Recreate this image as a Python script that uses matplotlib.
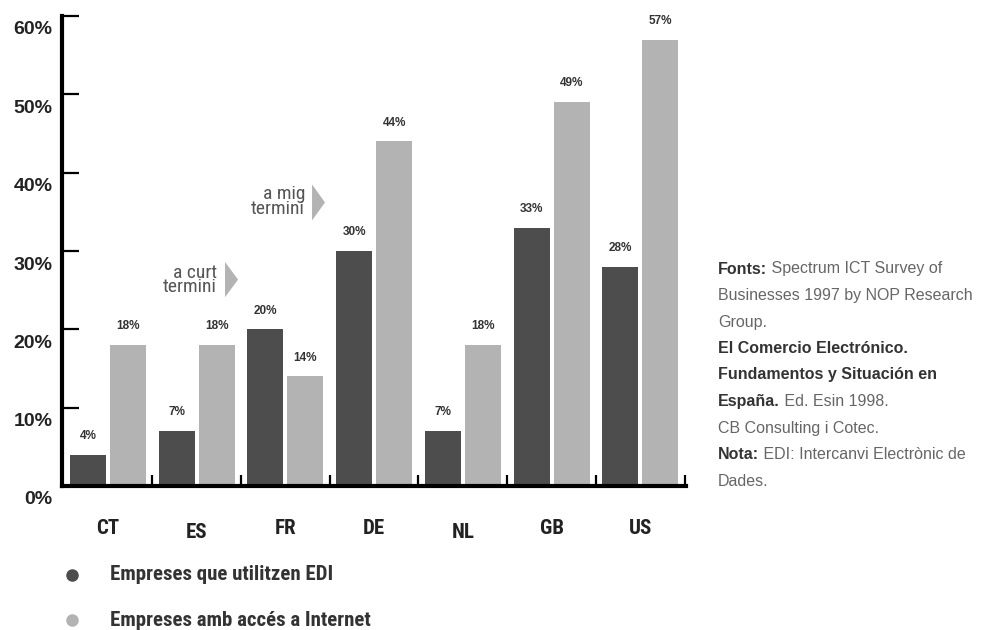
import numpy as np
import matplotlib
matplotlib.use('Agg')
import matplotlib.pyplot as plt
from matplotlib import font_manager as fm
from matplotlib.transforms import ScaledTranslation
from matplotlib.patches import Polygon
from matplotlib.lines import Line2D

# dades
paisos = ['CT', 'ES', 'FR', 'DE', 'NL', 'GB', 'US']
edi = [4, 7, 20, 30, 7, 33, 28]
internet = [18, 18, 14, 44, 18, 49, 57]
yticks = [0, 10, 20, 30, 40, 50, 60]
ytick_labels = ['0%', '10%', '20%', '30%', '40%', '50%', '60%']
legend_labels = ['Empreses que utilitzen EDI', 'Empreses amb accés a Internet']

FOSC = '#4d4d4d'
CLAR = '#b3b3b3'

noms = {f.name for f in fm.fontManager.ttflist}
estret = 'DejaVu Sans'
for cand in ['Liberation Sans Narrow', 'DejaVu Sans Condensed', 'Roboto Condensed']:
    if cand in noms:
        estret = cand
        break
print('font:', estret)
normal = 'Liberation Sans' if 'Liberation Sans' in noms else 'DejaVu Sans'

fig = plt.figure(figsize=(9.81, 6.30), dpi=100)
ax = fig.add_axes([62 / 981, 144 / 630, 624 / 981, 470 / 630])

x = np.arange(len(paisos))
w = 0.406
off = 0.2255
ax.bar(x - off, edi, w, color=FOSC, zorder=2)
ax.bar(x + off, internet, w, color=CLAR, zorder=2)

for xi, v in zip(x - off, edi):
    ax.annotate(f'{v}%', (xi, v), xytext=(0, 13.5), textcoords='offset points',
                ha='center', va='center', fontsize=8.5, fontweight='bold',
                color='#333333', family=normal)
for xi, v in zip(x + off, internet):
    ax.annotate(f'{v}%', (xi, v), xytext=(0, 13.5), textcoords='offset points',
                ha='center', va='center', fontsize=8.5, fontweight='bold',
                color='#333333', family=normal)

ax.set_xlim(-0.519, 6.516)
ax.set_ylim(0, 60)

for s in ['top', 'right']:
    ax.spines[s].set_visible(False)
ax.spines['left'].set_linewidth(3)
ax.spines['bottom'].set_linewidth(3)
ax.spines['left'].set_zorder(3)
ax.spines['bottom'].set_zorder(3)

ax.set_yticks(yticks)
ax.set_yticklabels(ytick_labels, fontsize=14, fontweight='bold',
                   color='#222222', family=normal)
ax.tick_params(axis='y', direction='in', length=12, width=1.6, pad=7)
for lab in ax.get_yticklabels():
    lab.set_transform(lab.get_transform() + ScaledTranslation(0, -0.12, fig.dpi_scale_trans))

ax.set_xticks(x)
ax.set_xticklabels(paisos, fontsize=15, fontweight='bold', color='#222222', family=estret)
ax.tick_params(axis='x', which='major', length=0, pad=24)
ax.set_xticks(np.arange(len(paisos)) + 0.5, minor=True)
ax.tick_params(axis='x', which='minor', direction='in', length=8, width=1.6)
# ES i NL una mica mes avall, com a l'original
for i, lab in enumerate(ax.get_xticklabels()):
    if paisos[i] in ('ES', 'NL'):
        lab.set_transform(lab.get_transform() + ScaledTranslation(0, -0.04, fig.dpi_scale_trans))

# fletxes de termini
ax.text(1.229, 26.3, 'a curt\ntermini', ha='right', va='center', fontsize=14,
        color='#555555', family=estret, linespacing=0.75)
ax.add_patch(Polygon([[1.319, 28.6], [1.319, 24.1], [1.466, 26.35]], closed=True,
                     color=CLAR, lw=0, clip_on=False))
ax.text(2.221, 36.3, 'a mig\ntermini', ha='right', va='center', fontsize=14,
        color='#555555', family=estret, linespacing=0.75)
ax.add_patch(Polygon([[2.30, 38.5], [2.30, 33.9], [2.446, 36.2]], closed=True,
                     color=CLAR, lw=0, clip_on=False))

# llegenda
for yy, col, lab in zip([575, 620], [FOSC, CLAR], legend_labels):
    fig.add_artist(Line2D([72 / 981], [1 - yy / 630], marker='o', markersize=8,
                          color=col, transform=fig.transFigure))
    fig.text(110 / 981, 1 - yy / 630, lab, ha='left', va='center', fontsize=15,
             fontweight='bold', color='#333333', family=estret)

# notes a la dreta
notes = [
    [('Fonts:', True), (' Spectrum ICT Survey of', False)],
    [('Businesses 1997 by NOP Research', False)],
    [('Group.', False)],
    [('El Comercio Electrónico.', True)],
    [('Fundamentos y Situación en', True)],
    [('España.', True), (' Ed. Esin 1998.', False)],
    [('CB Consulting i Cotec.', False)],
    [('Nota:', True), (' EDI: Intercanvi Electrònic de', False)],
    [('Dades.', False)],
]
for i, linia in enumerate(notes):
    yy = 1 - (269 + i * 26.5) / 630
    prev = None
    for txt, bold in linia:
        kw = dict(fontsize=11.5, family=normal,
                  fontweight='bold' if bold else 'normal',
                  color='#333333' if bold else '#666666')
        if prev is None:
            prev = fig.text(718 / 981, yy, txt, ha='left', va='center', **kw)
        else:
            prev = ax.annotate(txt, xy=(1, 0), xycoords=prev, xytext=(0, 0),
                               textcoords='offset points', ha='left', va='bottom', **kw)

fig.savefig('out.png', dpi=100)
